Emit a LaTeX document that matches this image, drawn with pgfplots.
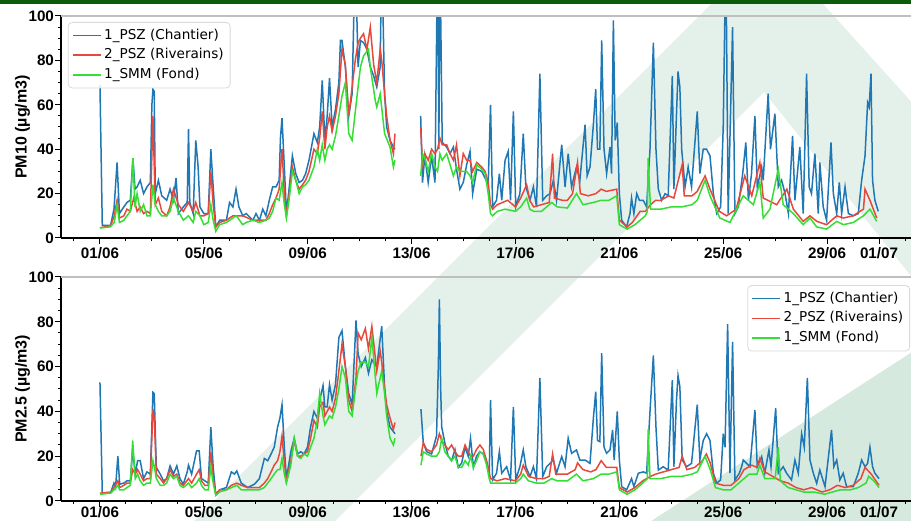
\documentclass[border=0pt]{standalone}
\usepackage{fontspec}
\setmainfont{DejaVu Sans}
\newfontfamily\labfont{Liberation Sans}
\usepackage{pgfplots}
\pgfplotsset{compat=1.18}

\definecolor{cblue}{RGB}{31,119,180}
\definecolor{cred}{RGB}{232,72,60}
\definecolor{cgreen}{RGB}{52,222,52}
\definecolor{wm}{RGB}{228,241,234}
\definecolor{wm2}{RGB}{214,233,222}
\definecolor{topbar}{RGB}{10,92,10}

\pgfplotsset{
  panel/.style={
    width=428.5pt, scale only axis,
    xmin=-1.5, xmax=31.5, ymin=0, ymax=100,
    axis lines*=left,
    axis line style={-, black, line width=0.6pt},
    tick align=outside,
    xtick={0,4,...,28,30},
    xticklabels={01/06,05/06,09/06,13/06,17/06,21/06,25/06,29/06,01/07},
    minor xtick={-1,0,...,31},
    ytick={0,20,...,100}, minor ytick={5,10,...,95},
    major tick length=3pt, minor tick length=1.6pt,
    every tick/.style={black, line width=0.5pt},
    ticklabel style={font=\labfont\bfseries\fontsize{7.6}{9}\selectfont},
    yticklabel style={xshift=3pt},
    /pgf/number format/assume math mode=true,
    ylabel style={font=\labfont\bfseries\fontsize{8}{9.6}\selectfont,
      at={(axis description cs:-0.045,0.5)}, anchor=center},
    unbounded coords=jump,
    clip mode=individual,
    legend cell align=left,
    legend image code/.code={\draw[##1, line width=0.75pt] (0pt,0pt) -- (14pt,0pt);},
    legend style={font=\fontsize{6.8}{8}\selectfont, draw=black!15,
      rounded corners=2pt, fill=white, fill opacity=0.85, text opacity=1,
      inner sep=2pt, nodes={inner sep=1.2pt}, row sep=0.8pt},
  },
  pblue/.style={cblue, line width=0.75pt},
  pred/.style={cred, line width=0.75pt},
  pgreen/.style={cgreen, line width=0.75pt},
}

\begin{document}
\begin{tikzpicture}
\useasboundingbox (0,0) rectangle (455.5pt,260pt);
% watermark and top bar, in pixel units of the reference
\begin{scope}
\clip (0,0) rectangle (455.5pt,260pt);
\begin{scope}[x=0.5pt, y=-0.5pt, yshift=260pt]
  \fill[wm] (155,560) -- (770,-55) -- (1180,400) -- (1010,400) -- (764,92) -- (296,560) -- cycle;
  \fill[wm2] (591,560) -- (1000,295) -- (1000,560) -- cycle;
  \fill[topbar] (0,-10) rectangle (911,4);
\end{scope}
\end{scope}

% ---------------- PM10 ----------------
\begin{axis}[panel, at={(30.5pt,141pt)}, anchor=south west, height=111pt,
  xticklabel style={yshift=1.8pt},
  ylabel={PM10 (µg/m3)},
  legend style={at={(axis description cs:0.008,0.973)}, anchor=north west}]
\addplot[pblue] coordinates {
(0,69)(0.09,5.7)(0.41,5.7)(0.54,13)(0.66,34)(0.75,11)(0.92,14)(1.04,16)(1.17,17)(1.27,36)(1.35,22)(1.43,23)(1.55,26)(1.68,20)(1.81,23)(1.94,25)(2.0,60)(2.04,67)(2.09,66)(2.13,20)(2.25,26)(2.38,19)(2.57,17)(2.7,22)(2.83,17)(2.93,27)(3.02,11)(3.21,14)(3.36,16)(3.41,49)(3.46,16)(3.59,11)(3.69,44)(3.78,32)(3.85,14)(4.0,11)(4.17,11)(4.27,40)(4.36,23)(4.46,5)(4.61,8)(4.87,8)(4.99,16)(5.12,14)(5.24,22)(5.35,14)(5.5,10)(5.63,11)(5.89,8)(6.01,11)(6.14,8)(6.27,13)(6.39,10)(6.52,17)(6.65,23)(6.78,23)(6.9,26)(6.95,45)(7.01,54)(7.1,32)(7.18,11)(7.29,23)(7.41,37)(7.54,29)(7.67,25)(7.8,26)(7.92,29)(8.05,35)(8.24,47)(8.37,43)(8.46,50)(8.56,71)(8.66,44)(8.75,55)(8.84,72)(8.94,50)(9.07,58)(9.2,70)(9.26,89)(9.32,89)(9.45,77)(9.58,55)(9.71,65)(9.83,130)(9.94,77)(10.03,89)(10.15,88)(10.28,85)(10.41,77)(10.54,73)(10.66,68)(10.79,77)(10.85,130)(10.96,65)(11.04,50)(11.17,44)(11.3,41)(11.36,40)
(12,nan)
(12.35,55)(12.42,25)(12.51,37)(12.64,25)(12.77,37)(12.9,25)(13.0,130)(13.05,40)(13.09,130)(13.18,43)(13.35,41)(13.48,38)(13.61,41)(13.73,31)(13.86,22)(13.99,25)(14.12,33)(14.25,39)(14.35,20)(14.51,31)(14.7,30)(14.83,27)(14.95,24)(15.04,60)(15.12,14)(15.27,17)(15.38,29)(15.47,17)(15.6,35)(15.72,39)(15.81,17)(15.92,57)(16.01,14)(16.17,20)(16.3,47)(16.4,23)(16.56,17)(16.69,23)(16.81,14)(16.94,74)(17.05,17)(17.2,19)(17.33,20)(17.46,26)(17.58,17)(17.78,42)(17.91,23)(18.03,38)(18.16,23)(18.35,32)(18.48,26)(18.68,51)(18.76,28)(18.87,32)(19.0,51)(19.09,67)(19.16,40)(19.25,40)(19.32,89)(19.41,40)(19.51,29)(19.64,41)(19.7,29)(19.77,98)(19.84,44)(19.92,52)(20.0,20)(20.09,8)(20.28,5)(20.41,11)(20.47,18)(20.56,11)(20.67,20)(20.77,17)(20.92,17)(21.05,14)(21.18,40)(21.31,88)(21.41,40)(21.5,22)(21.63,17)(21.76,20)(21.88,19)(22.04,73)(22.1,22)(22.21,59)(22.26,75)(22.33,68)(22.4,40)(22.53,23)(22.65,32)(22.78,23)(23.0,57)(23.1,29)(23.23,40)(23.36,40)(23.49,37)(23.62,20)(23.75,11)(23.9,14)(24.0,50)(24.1,130)(24.19,11)(24.36,95)(24.45,11)(24.58,14)(24.75,29)(24.87,43)(24.97,17)(25.09,29)(25.22,55)(25.31,23)(25.48,32)(25.54,26)(25.73,65)(25.82,40)(25.99,56)(26.12,23)(26.25,26)(26.38,20)(26.51,11)(26.67,46)(26.76,17)(26.95,41)(27.08,11)(27.21,74)(27.31,23)(27.4,20)(27.53,38)(27.66,11)(27.72,34)(27.85,14)(27.98,8)(28.15,43)(28.24,20)(28.37,11)(28.47,25)(28.56,11)(28.69,23)(28.82,11)(29.01,10)(29.2,11)(29.33,26)(29.46,37)(29.56,61)(29.62,59)(29.69,74)(29.75,26)(29.84,17)(29.97,12)
};
\addlegendentry{1\_PSZ (Chantier)}
\addplot[pred] coordinates {
(0,4.6)(0.41,5.5)(0.55,10)(0.66,17)(0.75,9)(0.92,10)(1.04,13)(1.17,12)(1.3,18)(1.43,12)(1.55,14)(1.68,11)(1.81,12)(1.94,11)(2.04,55)(2.13,15)(2.25,18)(2.38,12)(2.57,10)(2.7,14)(2.83,22)(3.02,15)(3.21,12)(3.41,16)(3.59,12)(3.69,16)(3.85,10)(4.0,10)(4.17,11)(4.27,30)(4.36,15)(4.46,5)(4.61,7)(4.87,8)(5.12,10)(5.5,10)(5.89,8)(6.14,8)(6.39,8)(6.52,11)(6.65,15)(6.78,18)(6.9,22)(7.01,40)(7.1,20)(7.18,10)(7.29,20)(7.41,32)(7.54,26)(7.67,22)(7.8,24)(7.92,26)(8.05,30)(8.24,40)(8.37,38)(8.46,45)(8.56,57)(8.66,40)(8.75,50)(8.84,55)(8.94,48)(9.07,55)(9.2,65)(9.32,85)(9.45,78)(9.58,55)(9.71,68)(9.83,80)(9.94,88)(10.03,90)(10.15,92)(10.28,85)(10.41,95)(10.54,78)(10.66,70)(10.79,85)(10.85,80)(10.96,65)(11.04,55)(11.17,44)(11.3,38)(11.36,47)
(12,nan)
(12.35,50)(12.42,33)(12.51,38)(12.64,35)(12.77,40)(12.9,38)(13.0,40)(13.09,45)(13.18,42)(13.35,42)(13.48,38)(13.61,35)(13.73,42)(13.86,28)(13.99,38)(14.12,35)(14.25,35)(14.35,30)(14.51,34)(14.7,32)(14.83,30)(14.95,25)(15.04,15)(15.12,13)(15.3,15)(15.5,16)(15.7,17)(16.0,14)(16.2,18)(16.43,24)(16.55,17)(16.7,14)(17.0,15)(17.3,16)(17.43,38)(17.5,18)(17.8,17)(18.0,17)(18.2,20)(18.39,34)(18.5,20)(18.8,19)(19.1,20)(19.3,22)(19.5,21)(19.9,22)(20.0,8)(20.3,5)(20.5,7)(20.8,12)(21.0,12)(21.2,15)(21.4,17)(21.6,17)(21.9,19)(22.1,18)(22.42,33)(22.5,19)(22.8,19)(23.0,21)(23.3,28)(23.49,22)(23.85,12)(24.13,10)(24.5,13)(24.83,28)(25.1,19)(25.41,34)(25.54,18)(26.06,15)(26.45,22)(26.7,13)(27.08,7.5)(27.34,10)(27.6,7.5)(27.98,6)(28.37,10)(28.63,9)(29.0,10)(29.4,13)(29.46,22)(29.65,17)(29.91,9)
};
\addlegendentry{2\_PSZ (Riverains)}
\addplot[pgreen] coordinates {
(0,4.5)(0.4,5)(0.55,7)(0.66,15)(0.75,7)(0.92,8)(1.04,10)(1.17,12)(1.27,36)(1.35,14)(1.43,20)(1.55,12)(1.68,15)(1.81,10)(1.94,10)(2.04,24)(2.13,15)(2.25,12)(2.38,10)(2.57,10)(2.7,12)(2.83,18)(3.02,12)(3.21,8)(3.41,10)(3.59,7)(3.69,12)(3.85,10)(4.0,6)(4.17,7)(4.27,15)(4.36,8)(4.46,3)(4.61,6)(4.87,7)(5.12,9)(5.25,10)(5.5,6)(5.63,7)(5.89,8)(6.14,7)(6.39,8)(6.52,9)(6.65,12)(6.78,18)(6.9,17)(7.01,25)(7.1,15)(7.18,9)(7.29,18)(7.41,30)(7.54,26)(7.67,20)(7.8,23)(7.92,24)(8.05,26)(8.24,32)(8.37,40)(8.46,35)(8.56,42)(8.66,35)(8.75,40)(8.84,42)(8.94,40)(9.07,46)(9.2,55)(9.32,64)(9.45,70)(9.58,47)(9.71,44)(9.9,64)(10.03,77)(10.15,82)(10.34,85)(10.41,77)(10.6,62)(10.66,59)(10.79,65)(10.96,47)(11.17,41)(11.3,32)(11.36,35)
(12,nan)
(12.35,28)(12.42,38)(12.51,36)(12.64,30)(12.77,38)(12.9,32)(13.0,30)(13.09,38)(13.18,35)(13.35,38)(13.48,33)(13.61,28)(13.73,32)(13.86,30)(13.99,30)(14.12,30)(14.25,28)(14.35,25)(14.51,33)(14.7,31)(14.83,29)(14.95,20)(15.04,11)(15.12,10)(15.3,12)(15.6,13)(16.0,12)(16.2,14)(16.43,18)(16.55,13)(16.7,12)(17.0,12)(17.4,16)(17.6,14)(18.0,13.5)(18.35,20)(18.6,15)(19.0,16)(19.3,17)(19.6,17)(19.9,19)(20.0,6)(20.3,4)(20.6,6)(21.0,10)(21.08,12)(21.11,36)(21.2,13)(21.6,13)(22.0,14)(22.4,14)(22.8,15)(23.0,17)(23.3,26)(23.49,19)(23.87,9)(24.26,7)(24.77,19)(25.16,15)(25.41,25)(25.54,9)(25.8,13)(26.12,31)(26.31,15)(26.7,11)(27.08,6)(27.34,9)(27.6,5)(27.98,4)(28.37,7.5)(28.63,6)(29.01,7)(29.4,10)(29.65,13)(29.91,7.5)
};
\addlegendentry{1\_SMM (Fond)}
\draw[black!25, line width=0.6pt] (rel axis cs:0,1) -- (rel axis cs:1,1);
\end{axis}

% ---------------- PM2.5 ----------------
\begin{axis}[panel, at={(30.5pt,9.5pt)}, anchor=south west, height=112pt,
  xticklabel style={yshift=3.8pt},
  ylabel={PM2.5 (µg/m3)},
  legend style={at={(axis description cs:0.9907,0.964)}, anchor=north east}]
\addplot[pblue] coordinates {
(0,53)(0.09,3.4)(0.41,3.7)(0.54,8)(0.6,6)(0.69,20)(0.76,7.5)(0.92,8)(1.04,9)(1.17,9)(1.26,23)(1.36,12)(1.45,18)(1.55,18)(1.68,10)(1.81,13)(1.94,12)(2.04,48.5)(2.09,48)(2.17,15)(2.32,12)(2.45,9)(2.57,10)(2.7,15.7)(2.83,12)(2.96,15.7)(3.08,10)(3.21,7.5)(3.36,13)(3.41,16)(3.53,12)(3.72,22.4)(3.82,22.4)(3.91,10)(4.04,9)(4.17,8)(4.27,33)(4.36,15)(4.46,3)(4.61,5)(4.87,6)(5.06,13)(5.18,12)(5.27,13.4)(5.44,8)(5.69,6)(5.95,7.5)(6.14,10)(6.33,19)(6.46,18)(6.59,21)(6.71,24)(6.84,33)(6.93,37)(7.01,43)(7.1,24)(7.18,10)(7.35,22)(7.48,28)(7.61,21)(7.73,22)(7.86,21)(7.99,24)(8.11,33)(8.24,40)(8.37,37)(8.46,45)(8.59,51.5)(8.66,42)(8.75,42)(8.84,52)(8.94,45)(9.07,52)(9.2,73)(9.32,76)(9.45,60)(9.58,48)(9.71,43)(9.86,80.6)(9.94,65.7)(10.06,60)(10.22,64)(10.34,57)(10.47,63)(10.66,60)(10.85,78)(10.96,51)(11.04,40)(11.17,33)(11.3,31)(11.36,30)
(12,nan)
(12.36,41)(12.45,26)(12.58,22)(12.77,21)(12.96,29)(13.03,60)(13.07,90)(13.12,50)(13.16,33)(13.28,26)(13.41,20)(13.54,18)(13.67,23)(13.8,15)(13.93,17)(14.06,24)(14.18,20)(14.27,28)(14.38,15)(14.5,20)(14.63,22)(14.76,21)(14.89,17)(14.99,12)(15.04,45)(15.12,9.4)(15.27,12.4)(15.38,22)(15.47,12.4)(15.66,15.3)(15.81,9.4)(15.92,42)(16.01,9.4)(16.17,15.3)(16.3,22.8)(16.4,15.3)(16.56,10.9)(16.69,15.3)(16.81,10)(16.94,55)(17.05,10.9)(17.2,15.3)(17.33,16.8)(17.46,18.3)(17.58,12.4)(17.78,19.8)(17.91,15.3)(18.03,28)(18.16,21.3)(18.35,22.8)(18.48,18.3)(18.68,18.3)(18.87,16.8)(19.0,37)(19.09,48.8)(19.16,27)(19.25,26.5)(19.32,66)(19.41,24)(19.51,21.3)(19.64,22.8)(19.74,31.7)(19.8,18.3)(19.92,40)(20.0,18.3)(20.09,6.4)(20.28,5)(20.47,10)(20.56,6.4)(20.73,12.4)(20.92,13)(21.05,12.4)(21.18,40)(21.31,65)(21.41,33)(21.5,13.8)(21.69,15.3)(21.88,13.8)(22.04,54)(22.1,15.3)(22.2,45)(22.26,56)(22.33,51)(22.42,18.3)(22.59,15.3)(22.78,16.8)(23.0,43)(23.1,18.3)(23.23,27)(23.36,30)(23.49,27)(23.62,12.4)(23.75,8)(23.9,9.4)(24.0,30)(24.07,24)(24.17,79)(24.26,12.4)(24.36,71)(24.45,9.4)(24.62,12.4)(24.71,15.3)(24.77,18.3)(25.03,15.3)(25.22,40.6)(25.31,15.3)(25.48,19.8)(25.6,12.4)(25.76,22.8)(25.84,15.3)(26.02,41.4)(26.12,12.4)(26.31,15.3)(26.44,12.4)(26.63,9.4)(26.76,18.3)(26.89,12.4)(27.02,30)(27.12,24)(27.24,55)(27.34,18.3)(27.47,12.4)(27.6,7.9)(27.72,13.8)(27.92,6.4)(28.17,31.7)(28.26,15.3)(28.37,18.3)(28.49,9.4)(28.62,12.4)(28.75,6.4)(29.01,6.4)(29.2,12.4)(29.33,18.3)(29.46,15.3)(29.56,16.8)(29.65,24)(29.75,15.3)(29.84,12.4)(30.0,10)
};
\addlegendentry{1\_PSZ (Chantier)}
\addplot[pred] coordinates {
(0,3.5)(0.41,4)(0.54,6)(0.69,9)(0.76,6)(0.92,7)(1.04,8)(1.17,8)(1.26,14)(1.36,12)(1.45,14)(1.55,12)(1.68,9)(1.81,10)(1.94,10)(2.04,41)(2.1,35)(2.17,12)(2.32,10)(2.45,8)(2.57,10)(2.7,14)(2.83,11)(2.96,12)(3.08,8)(3.21,7)(3.41,10)(3.53,8)(3.72,12)(3.82,14)(3.91,9)(4.04,7)(4.17,7)(4.27,22)(4.36,10)(4.46,3)(4.61,5)(4.87,5)(5.06,7)(5.27,8)(5.44,7)(5.69,6)(5.95,6)(6.14,6)(6.33,8)(6.46,10)(6.59,13)(6.71,16)(6.84,18)(6.93,22)(7.01,29)(7.1,17)(7.18,9)(7.35,18)(7.48,27)(7.61,20)(7.73,20)(7.86,21)(7.99,22)(8.11,28)(8.24,36)(8.37,33)(8.46,42)(8.59,44)(8.66,38)(8.75,40)(8.84,42)(8.94,40)(9.07,46)(9.2,58)(9.32,70)(9.45,60)(9.58,45)(9.71,40)(9.86,55)(9.94,75)(10.06,72)(10.22,77)(10.34,68)(10.47,78)(10.66,58)(10.79,67)(10.85,62)(10.96,50)(11.04,43)(11.17,37)(11.3,32)(11.36,35)
(12,nan)
(12.36,20)(12.45,26)(12.58,23)(12.77,22)(12.96,25)(13.07,30)(13.16,27)(13.28,25)(13.41,23)(13.54,25)(13.67,22)(13.8,20)(13.93,20)(14.06,25)(14.18,22)(14.27,20)(14.38,20)(14.5,23)(14.63,25)(14.76,23)(14.89,18)(15.04,10)(15.3,9)(15.6,10)(16.0,9)(16.2,12)(16.3,16)(16.5,11)(16.8,10)(17.1,10)(17.3,11)(17.43,21)(17.55,12)(17.8,12)(18.0,12)(18.3,14)(18.39,17)(18.6,14)(18.9,13)(19.1,14)(19.3,18)(19.5,15)(19.9,15)(20.0,6)(20.3,4)(20.6,6)(20.9,9)(21.2,11)(21.4,12)(21.7,13)(22.0,14)(22.3,15)(22.42,20)(22.6,14)(22.9,15)(23.2,18)(23.35,21)(23.5,17)(23.7,8)(24.0,7)(24.3,7)(24.6,10)(24.8,14)(25.1,16)(25.3,15)(25.41,19)(25.6,13)(25.9,11)(26.2,9)(26.5,8)(26.8,6)(27.1,5)(27.4,6)(27.8,4)(28.1,5)(28.4,7)(28.7,6)(29.0,7)(29.3,10)(29.46,15)(29.7,12)(30.0,7)
};
\addlegendentry{2\_PSZ (Riverains)}
\addplot[pgreen] coordinates {
(0,3)(0.41,3.5)(0.54,5)(0.69,7)(0.76,5)(0.92,5)(1.04,6)(1.17,7)(1.26,27)(1.36,10)(1.45,12)(1.55,9)(1.68,7)(1.81,8)(1.94,8)(2.04,18)(2.1,15)(2.17,10)(2.32,7)(2.45,7)(2.57,8)(2.7,12)(2.83,10)(2.96,11)(3.08,7)(3.21,6)(3.41,8)(3.53,6)(3.72,8)(3.82,10)(3.91,7)(4.04,5)(4.17,5)(4.27,15)(4.36,8)(4.46,2.5)(4.61,4)(4.87,5)(5.06,6)(5.27,7)(5.44,5)(5.69,5)(5.95,5)(6.14,5)(6.33,6)(6.46,8)(6.59,10)(6.71,12)(6.84,14)(6.93,14)(7.01,19)(7.1,12)(7.18,8)(7.35,16)(7.48,28)(7.61,20)(7.73,19)(7.86,21)(7.99,20)(8.11,24)(8.24,28)(8.37,36)(8.46,48)(8.59,38)(8.66,34)(8.75,36)(8.84,38)(8.94,37)(9.07,42)(9.2,50)(9.32,60)(9.45,55)(9.58,40)(9.71,38)(9.86,52)(9.94,58)(10.06,62)(10.22,62)(10.34,60)(10.47,73)(10.66,48)(10.79,55)(10.85,58)(10.96,48)(11.04,38)(11.17,28)(11.3,25)(11.36,28)
(12,nan)
(12.36,16)(12.45,22)(12.58,21)(12.77,20)(12.96,20)(13.07,22)(13.16,28)(13.28,22)(13.41,20)(13.54,18)(13.67,20)(13.8,15)(13.93,15)(14.06,18)(14.18,16)(14.27,20)(14.38,15)(14.5,18)(14.63,22)(14.76,21)(14.89,16)(14.99,10)(15.04,8)(15.3,8)(15.6,8)(16.0,8)(16.2,10)(16.3,12)(16.5,9)(16.8,8)(17.1,8)(17.4,10)(17.6,9)(18.0,9)(18.35,12)(18.6,9)(19.0,10)(19.3,12)(19.6,12)(19.9,13)(20.0,5)(20.3,3)(20.6,5)(20.9,8)(21.08,10)(21.11,32)(21.18,10)(21.6,10)(22.0,11)(22.4,11)(22.8,12)(23.0,13)(23.3,20)(23.5,14)(23.7,6)(24.0,5)(24.3,5)(24.6,8)(25.0,12)(25.3,12)(25.41,16)(25.6,10)(26.0,10)(26.12,24)(26.2,9)(26.5,6)(26.8,5)(27.1,4)(27.5,4)(27.9,3)(28.2,4)(28.5,5)(28.9,5)(29.2,6)(29.5,8)(29.6,11)(29.8,9)(30.0,6)
};
\addlegendentry{1\_SMM (Fond)}
\draw[black!25, line width=0.6pt] (rel axis cs:0,1) -- (rel axis cs:1,1);
\end{axis}
\end{tikzpicture}
\end{document}
